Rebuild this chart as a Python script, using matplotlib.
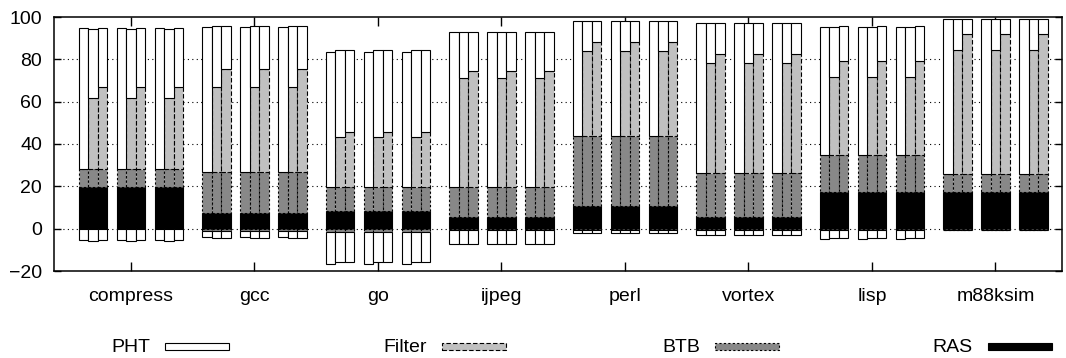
import numpy as np
import matplotlib
matplotlib.use("Agg")
import matplotlib.pyplot as plt
from matplotlib.patches import Rectangle

plt.rcParams['font.family'] = ['Liberation Sans', 'DejaVu Sans']

benchmarks = ['compress', 'gcc', 'go', 'ijpeg', 'perl', 'vortex', 'lisp', 'm88ksim']

# stack boundaries per benchmark (same for the 3 groups)
ras_top = [19.5, 7.2, 8.2, 5.5, 10.9, 5.5, 17.2, 17.2]
btb_top = [28.0, 26.8, 19.7, 19.7, 43.6, 26.2, 34.8, 25.8]
filter_top_b2 = [61.6, 66.8, 43.3, 71.1, 83.8, 78.5, 71.7, 84.2]
filter_top_b3 = [66.8, 75.2, 45.5, 74.4, 88.3, 82.3, 79.4, 92.2]
pht_top = [[94.7, 94.1, 94.6], [95.5, 95.7, 95.9], [83.5, 84.3, 84.3], [93.0, 93.0, 93.0],
           [98.2, 98.2, 98.2], [97.1, 97.1, 97.1], [95.3, 95.5, 95.7], [99.1, 99.1, 99.1]]
neg_btb = [0.0, -1.3, -1.5, -0.8, -0.8, -0.8, -0.8, -0.5]
pht_bottom = [[-5.2, -5.8, -5.2], [-4.0, -4.3, -4.3], [-16.5, -15.9, -15.9], [-7.2, -7.2, -7.2],
              [-2.0, -2.0, -2.0], [-3.2, -3.2, -3.2], [-4.7, -4.5, -4.3], [-0.8, -0.8, -0.8]]

fig = plt.figure(figsize=(10.66, 3.58), dpi=100)
ax = fig.add_axes([54/1066, 87/358, 1008/1066, 254/358])

xs, ras, btb, filt, top, nb, bot = [], [], [], [], [], [], []
for i in range(len(benchmarks)):
    for g in (-1, 0, 1):
        for b in range(3):
            xs.append(13*i + 4*g + (b - 1))
            ras.append(ras_top[i])
            btb.append(btb_top[i])
            if b == 0:
                filt.append(btb_top[i])
            elif b == 1:
                filt.append(filter_top_b2[i])
            else:
                filt.append(filter_top_b3[i])
            top.append(pht_top[i][b])
            nb.append(neg_btb[i])
            bot.append(pht_bottom[i][b])

xs = np.array(xs); ras = np.array(ras); btb = np.array(btb)
filt = np.array(filt); top = np.array(top); nb = np.array(nb); bot = np.array(bot)

for y in (0, 20, 40, 60, 80):
    ax.axhline(y, color='black', lw=0.8, ls=(0, (1, 3)), zorder=0)

w = 1.0
# positive stack
ax.bar(xs, ras, w, bottom=0, color='black', edgecolor='black', lw=0.8, zorder=2)
ax.bar(xs, btb - ras, w, bottom=ras, color='#888888', edgecolor='black', lw=0.8,
       ls=(0, (2, 2)), zorder=2)
m = filt > btb
ax.bar(xs[m], (filt - btb)[m], w, bottom=btb[m], color='#c0c0c0', edgecolor='black', lw=0.8,
       ls=(0, (4, 2)), zorder=2)
ax.bar(xs, top - filt, w, bottom=filt, color='white', edgecolor='black', lw=0.8, zorder=2)
# negative stack
mn = nb < 0
ax.bar(xs[mn], nb[mn], w, bottom=0, color='#888888', edgecolor='black', lw=0.8,
       ls=(0, (2, 2)), zorder=2)
ax.bar(xs, bot - nb, w, bottom=nb, color='white', edgecolor='black', lw=0.8, zorder=2)

ax.set_xlim(-8.1, 98.0)
ax.set_ylim(-20, 100)
ax.set_xticks([13*i for i in range(len(benchmarks))])
ax.set_xticklabels(benchmarks)
ax.set_yticks([-20, 0, 20, 40, 60, 80, 100])
ax.tick_params(axis='x', direction='in', length=6.5, width=1, top=True, pad=12, labelsize=14)
ax.tick_params(axis='y', direction='in', length=5, width=1, right=True, pad=8.5, labelsize=14)
for s in ax.spines.values():
    s.set_linewidth(1.1)

# key below the plot
key_names = ['PHT', 'Filter', 'BTB', 'RAS']
key_face = ['white', '#c0c0c0', '#888888', 'black']
key_ls = ['-', (0, (4, 2)), (0, (2, 2)), '-']
key_right = [150, 427, 700, 973]
for name, fc, ls, xr in zip(key_names, key_face, key_ls, key_right):
    fig.text(xr/1066, 11/358, name, ha='right', va='center', fontsize=14)
    fig.add_artist(Rectangle(((xr + 15)/1066, 8/358), 64/1066, 7/358, facecolor=fc,
                             edgecolor='black', lw=0.8, ls=ls, transform=fig.transFigure))

fig.savefig('out.png', dpi=100)
